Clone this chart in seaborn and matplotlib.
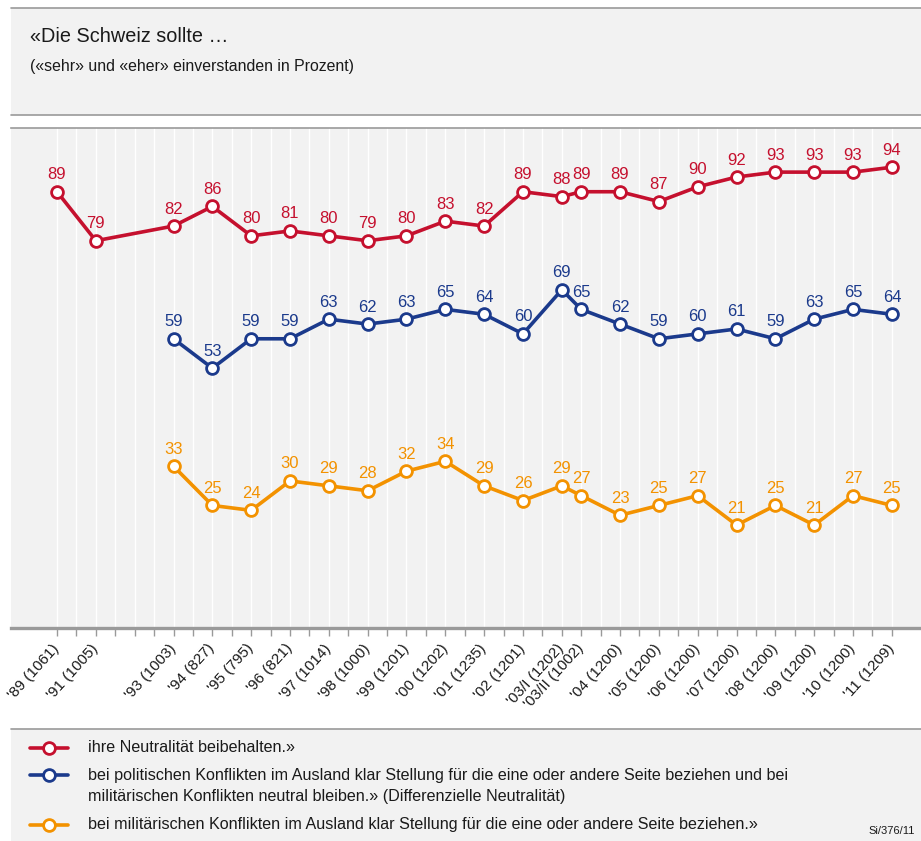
# Swiss neutrality survey chart
import pandas as pd
import matplotlib.pyplot as plt
import seaborn as sns
from matplotlib.patches import Rectangle
from matplotlib.lines import Line2D

# ------------------------------------------
# Data
# ------------------------------------------
survey_labels = ["'89 (1061)", "'91 (1005)", "'93 (1003)", "'94 (827)", "'95 (795)",
                 "'96 (821)", "'97 (1014)", "'98 (1000)", "'99 (1201)", "'00 (1202)",
                 "'01 (1235)", "'02 (1201)", "'03/I (1202)", "'03/II (1002)", "'04 (1200)",
                 "'05 (1200)", "'06 (1200)", "'07 (1200)", "'08 (1200)", "'09 (1200)",
                 "'10 (1200)", "'11 (1209)"]
# time slot of each survey on the axis (half-year steps)
survey_slot = [0, 2, 6, 8, 10, 12, 14, 16, 18, 20, 22, 24, 26, 27, 29, 31, 33, 35, 37, 39, 41, 43]
n_slots = 44

neutral = [89, 79, 82, 86, 80, 81, 80, 79, 80, 83, 82, 89, 88, 89, 89, 87, 90, 92, 93, 93, 93, 94]
differential = [None, None, 59, 53, 59, 59, 63, 62, 63, 65, 64, 60, 69, 65, 62, 59, 60, 61, 59, 63, 65, 64]
military = [None, None, 33, 25, 24, 30, 29, 28, 32, 34, 29, 26, 29, 27, 23, 25, 27, 21, 25, 21, 27, 25]

series_names = ["ihre Neutralität beibehalten.»",
                "bei politischen Konflikten im Ausland klar Stellung für die eine oder andere Seite beziehen und bei\n"
                "militärischen Konflikten neutral bleiben.» (Differenzielle Neutralität)",
                "bei militärischen Konflikten im Ausland klar Stellung für die eine oder andere Seite beziehen.»"]
series_colors = ["#c5102e", "#1b3a8c", "#f39200"]

rows = []
for name, values in zip(series_names, [neutral, differential, military]):
    for slot, v in zip(survey_slot, values):
        if v is not None:
            rows.append({"slot": slot, "value": v, "series": name})
df = pd.DataFrame(rows)

# ------------------------------------------
# Style
# ------------------------------------------
sns.set_style("white")
plt.rcParams["font.family"] = ["Liberation Sans", "DejaVu Sans"]

W, H = 921, 841
fig = plt.figure(figsize=(W / 100, H / 100), dpi=100)
bg = "#f2f2f2"
border = "#9a9a9a"
text_col = "#1a1a1a"

# header box
fig.add_artist(Rectangle((11 / W, 1 - 115 / H), 1 - 11 / W, 107 / H,
                         transform=fig.transFigure, facecolor=bg, edgecolor="none"))
for yy in [8, 115]:
    fig.add_artist(Line2D([11 / W, 1], [1 - yy / H, 1 - yy / H], transform=fig.transFigure,
                          color=border, lw=1.2))
fig.text(30 / W, 1 - 37 / H, "«Die Schweiz sollte …", fontsize=14.3, va="center", color=text_col)
fig.text(30 / W, 1 - 67 / H, "(«sehr» und «eher» einverstanden in Prozent)", fontsize=11.4,
         va="center", color=text_col)

# legend box
fig.add_artist(Rectangle((11 / W, 0), 1 - 11 / W, 1 - 729 / H,
                         transform=fig.transFigure, facecolor=bg, edgecolor="none"))
fig.add_artist(Line2D([11 / W, 1], [1 - 729 / H, 1 - 729 / H], transform=fig.transFigure,
                      color=border, lw=1.2))

# ------------------------------------------
# Main plot
# ------------------------------------------
ax = fig.add_axes([11 / W, 1 - 628 / H, 1 - 11 / W, 500 / H])
ax.set_facecolor(bg)

for name, color in zip(series_names, series_colors):
    sub = df[df["series"] == name]
    sns.lineplot(data=sub, x="slot", y="value", color=color, linewidth=2.6,
                 marker="o", markersize=8.5, markerfacecolor="white",
                 markeredgecolor=color, markeredgewidth=2, ax=ax, legend=False, zorder=3)
    for _, r in sub.iterrows():
        ax.annotate(str(int(r["value"])), (r["slot"], r["value"]), xytext=(0, 9),
                    textcoords="offset points", ha="center", va="baseline",
                    color=color, fontsize=12)

tick_text = [""] * n_slots
for s, lab in zip(survey_slot, survey_labels):
    tick_text[s] = lab
ax.set_xticks(range(n_slots))
ax.set_xticklabels(tick_text, rotation=48, ha="right", va="center",
                   rotation_mode="anchor", fontsize=11, color=text_col)
ax.tick_params(axis="x", length=6, width=1, color=border, pad=7, bottom=True)
ax.set_yticks([])
ax.grid(axis="x", color="white", lw=1)
ax.grid(axis="y", visible=False)
ax.set_xlim(-2.37, 44.5)
ax.set_ylim(0, 102)
ax.set_xlabel("")
ax.set_ylabel("")

for side in ["left", "right"]:
    ax.spines[side].set_visible(False)
ax.spines["bottom"].set_color(border)
ax.spines["bottom"].set_linewidth(2.4)
ax.spines["top"].set_color(border)
ax.spines["top"].set_linewidth(1.2)

# ------------------------------------------
# Legend rows
# ------------------------------------------
legend_y = [748, 775, 825]
legend_text_y = [748, 786, 825]
for name, color, yy, ty in zip(series_names, series_colors, legend_y, legend_text_y):
    fy = 1 - yy / H
    fig.add_artist(Line2D([30 / W, 68 / W], [fy, fy], transform=fig.transFigure,
                          color=color, lw=2.6))
    fig.add_artist(Line2D([49 / W], [fy], transform=fig.transFigure, marker="o",
                          markersize=8.5, markerfacecolor="white", markeredgecolor=color,
                          markeredgewidth=2, linestyle="none"))
    fig.text(88 / W, 1 - ty / H, name, fontsize=11.6, va="center", linespacing=1.55,
             color=text_col)

fig.text(915 / W, 1 - 831 / H, "Si/376/11", fontsize=8, ha="right", va="center",
         color=text_col)

plt.savefig("out.png", dpi=100)
